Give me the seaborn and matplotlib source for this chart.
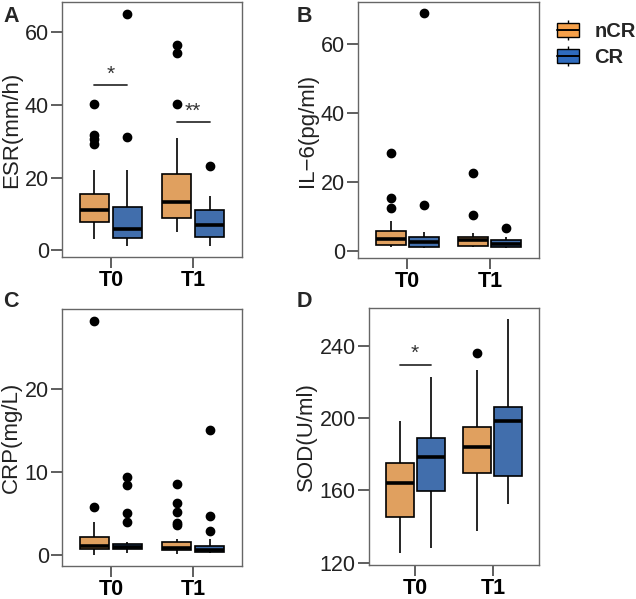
import numpy as np
import pandas as pd
import matplotlib
matplotlib.use("Agg")
import matplotlib.pyplot as plt
import seaborn as sns
from matplotlib.patches import Patch
from matplotlib.lines import Line2D
from matplotlib.legend_handler import HandlerTuple

# ---- data: box summaries ----
times = ["T0", "T1"]
groups = ["nCR", "CR"]
# each entry: [lower whisker, Q1, median, Q3, upper whisker]
esr_stats = {("T0", "nCR"): [3.1, 7.9, 11.1, 15.4, 22.1],
             ("T0", "CR"): [1.1, 3.4, 6.0, 12.0, 22.1],
             ("T1", "nCR"): [5.0, 8.9, 13.2, 21.0, 31.0],
             ("T1", "CR"): [1.1, 3.8, 7.0, 11.1, 15.0]}
esr_out = {("T0", "nCR"): [40.1, 31.7, 30.5, 29.1],
           ("T0", "CR"): [31.1, 65.0],
           ("T1", "nCR"): [56.4, 54.1, 40.1],
           ("T1", "CR"): [23.1]}
il6_stats = {("T0", "nCR"): [1.3, 1.8, 3.6, 5.9, 8.7],
             ("T0", "CR"): [1.0, 1.3, 2.6, 4.2, 5.6],
             ("T1", "nCR"): [1.3, 1.6, 3.4, 4.2, 5.3],
             ("T1", "CR"): [1.0, 1.3, 2.2, 3.2, 4.2]}
il6_out = {("T0", "nCR"): [28.4, 15.5, 12.5],
           ("T0", "CR"): [13.6, 69.2],
           ("T1", "nCR"): [22.7, 10.6],
           ("T1", "CR"): [6.7]}
crp_stats = {("T0", "nCR"): [0.0, 0.7, 1.1, 2.2, 4.0],
             ("T0", "CR"): [0.3, 0.7, 1.0, 1.3, 1.6],
             ("T1", "nCR"): [0.1, 0.6, 0.9, 1.6, 2.0],
             ("T1", "CR"): [0.3, 0.4, 0.6, 1.1, 1.9]}
crp_out = {("T0", "nCR"): [28.2, 5.8],
           ("T0", "CR"): [9.4, 8.4, 5.1, 4.0],
           ("T1", "nCR"): [8.6, 6.3, 5.2, 3.9, 3.6],
           ("T1", "CR"): [15.1, 4.7, 2.9]}
sod_stats = {("T0", "nCR"): [125.2, 145.5, 164.3, 175.0, 198.6],
             ("T0", "CR"): [128.3, 159.9, 178.2, 189.2, 222.6],
             ("T1", "nCR"): [137.5, 169.8, 184.2, 195.3, 226.7],
             ("T1", "CR"): [152.3, 168.2, 198.1, 206.0, 254.8]}
sod_out = {("T0", "nCR"): [],
           ("T0", "CR"): [],
           ("T1", "nCR"): [235.9],
           ("T1", "CR"): []}

panels = [
    ("A", "ESR(mm/h)", esr_stats, esr_out, (-1.8, 68.2), [0, 20, 40, 60]),
    ("B", "IL\u22126(pg/ml)", il6_stats, il6_out, (-1.9, 72.3), [0, 20, 40, 60]),
    ("C", "CRP(mg/L)", crp_stats, crp_out, (-1.3, 29.6), [0, 10, 20]),
    ("D", "SOD(U/ml)", sod_stats, sod_out, (118.7, 260.9), [120, 160, 200, 240]),
]
# significance marks: panel -> list of (x0, x1, y, label)
sig_marks = {"A": [(-0.2, 0.2, 45.4, "*"), (0.8, 1.2, 35.3, "**")],
             "D": [(-0.2, 0.2, 229.6, "*")]}

colors = {"nCR": "#F5A04A", "CR": "#2F6BBE"}


def expand(stats, outs, m=6):
    """Sample list of 4m+1 values whose quartiles equal the read summary."""
    lo, q1, med, q3, hi = stats
    vals = [lo] * m + [q1] * m + [med] * m + [q3] + [hi] * (m - len(outs)) + list(outs)
    return vals


def frame(stats, outs):
    rows = []
    for t in times:
        for g in groups:
            for v in expand(stats[(t, g)], outs[(t, g)]):
                rows.append({"time": t, "group": g, "value": v})
    return pd.DataFrame(rows)


sns.set_style("white")
plt.rcParams["font.family"] = ["Liberation Sans", "DejaVu Sans"]

W, H = 636, 599
fig = plt.figure(figsize=(W / 100, H / 100), dpi=100)

# axes rectangles in pixels: left, top, right, bottom
rects = {"A": (62, 2, 242, 257), "B": (358, 2, 539, 258),
         "C": (62, 309, 242, 566), "D": (369, 308, 539, 565)}
letter_pos = {"A": (3, 6), "B": (297, 6), "C": (3, 291), "D": (297, 291)}

for letter, ylabel, stats, outs, ylim, yticks in panels:
    l, t, r, b = rects[letter]
    ax = fig.add_axes([l / W, 1 - b / H, (r - l) / W, (b - t) / H])
    df = frame(stats, outs)
    sns.boxplot(data=df, x="time", y="value", hue="group", order=times,
                hue_order=groups, palette=colors, width=0.8, gap=0.1,
                linecolor="black", linewidth=1.2, showcaps=False,
                medianprops=dict(linewidth=2.6, color="black"),
                whiskerprops=dict(linewidth=1.2, color="black"),
                boxprops=dict(edgecolor="black", linewidth=1.2),
                flierprops=dict(marker="o", markerfacecolor="black",
                                markeredgecolor="black", markersize=6),
                legend=False, ax=ax)
    ax.set_xlim(-0.595, 1.595)
    ax.set_ylim(*ylim)
    ax.set_yticks(yticks)
    ax.set_xlabel("")
    ax.set_ylabel(ylabel, fontsize=16, color="#222222", labelpad=2)
    for s in ax.spines.values():
        s.set_visible(True)
        s.set_color("#666666")
        s.set_linewidth(1.0)
    ax.tick_params(axis="both", direction="out", length=8, width=1.1,
                   color="#333333", labelsize=15.5, labelcolor="#222222",
                   left=True, bottom=True, pad=1.5)
    for lab in ax.get_xticklabels():
        lab.set_fontweight("bold")
        lab.set_fontsize(15.5)
        lab.set_color("black")
    for x0, x1, y, txt in sig_marks.get(letter, []):
        ax.plot([x0, x1], [y, y], color="#333333", linewidth=1.3)
        ax.text((x0 + x1) / 2, y + (ylim[1] - ylim[0]) * 0.005, txt,
                ha="center", va="bottom", fontsize=15, color="#333333")
    lx, ly = letter_pos[letter]
    fig.text(lx / W, 1 - ly / H, letter, fontsize=15.5,
             fontweight="bold", ha="left", va="top")

handles = []
for g in groups:
    handles.append((Line2D([], [], marker="|", markersize=14.5, color="black",
                           linestyle="None", markeredgewidth=1.0),
                    Patch(facecolor=colors[g], edgecolor="black", linewidth=1.0),
                    Line2D([], [], color="black", linewidth=1.4)))
leg = fig.legend(handles, groups, loc="upper left",
                 bbox_to_anchor=(557 / W, 1 - 22 / H), frameon=False,
                 borderpad=0, borderaxespad=0,
                 handler_map={tuple: HandlerTuple(ndivide=1, pad=0)},
                 handlelength=1.1, handleheight=0.7, handletextpad=0.75,
                 labelspacing=0.35, prop={"size": 14.5, "weight": "bold"})

fig.savefig("out.png", dpi=100)
